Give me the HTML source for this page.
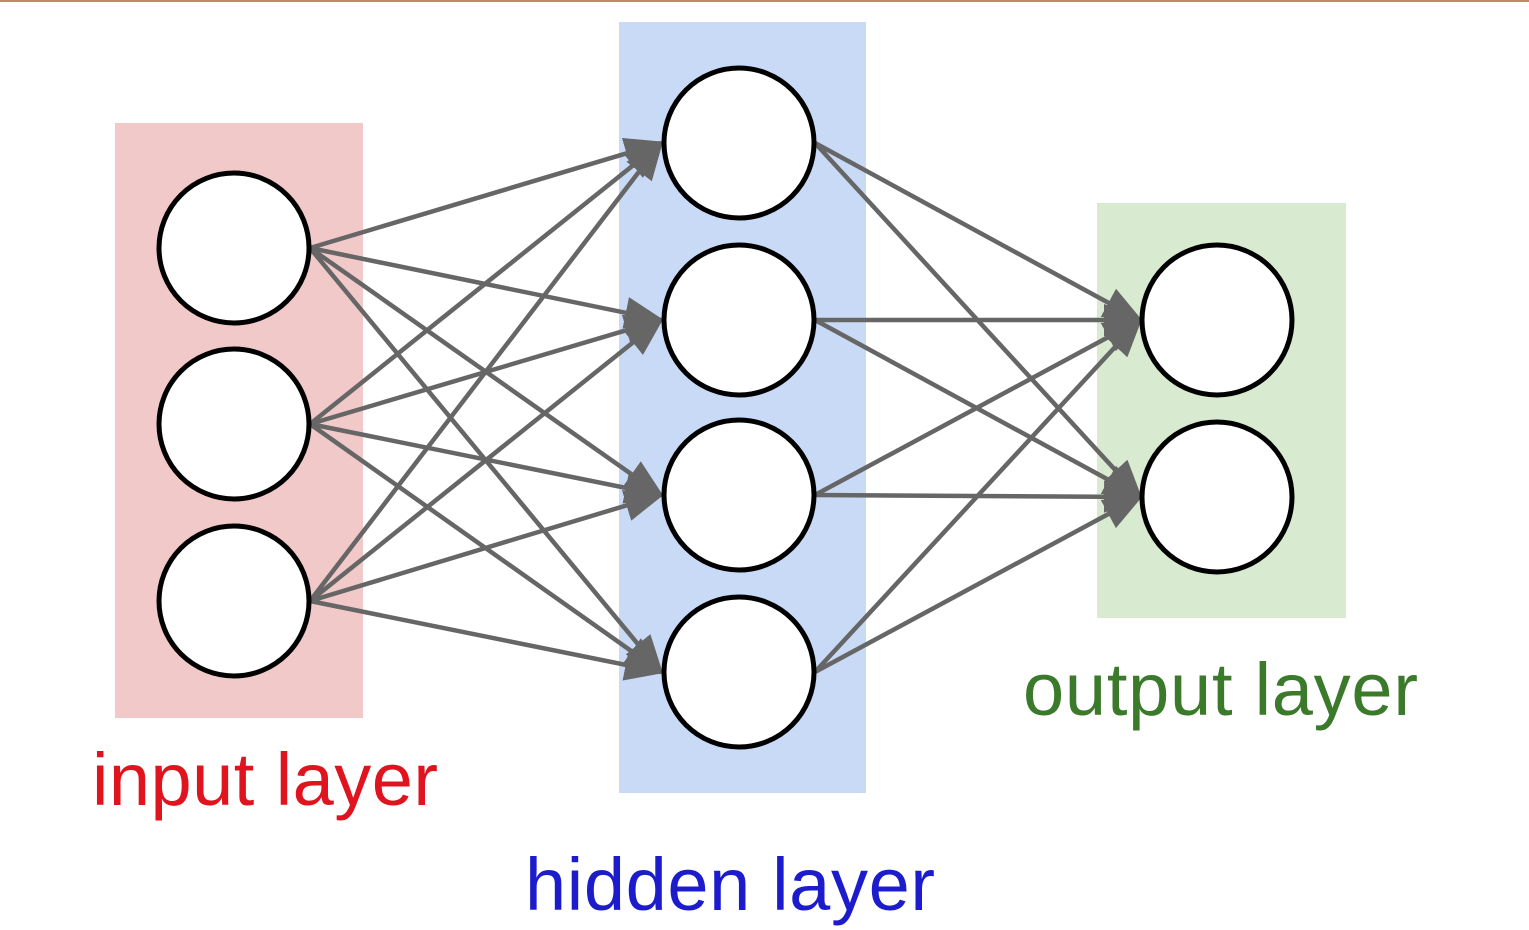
<!DOCTYPE html>
<html><head><style>
html,body{margin:0;padding:0;background:#fff;}
svg{display:block;}
</style></head><body>
<svg width="1529" height="930" viewBox="0 0 1529 930" xmlns="http://www.w3.org/2000/svg">
<defs>
<marker id="a" markerWidth="40" markerHeight="32" refX="36" refY="16" orient="auto" markerUnits="userSpaceOnUse">
<path d="M0,0 L40,16 L0,32 Z" fill="#666"/>
</marker>
</defs>
<rect x="0" y="0" width="1529" height="2" fill="#c08a6a"/>
<rect x="115" y="123" width="248" height="595" fill="#f2c9c9"/>
<rect x="619" y="22" width="247" height="771" fill="#c9daf6"/>
<rect x="1097" y="203" width="249" height="415" fill="#d8ead0"/>
<g stroke="#666" stroke-width="4.5" fill="none" marker-end="url(#a)">
<line x1="310" y1="248" x2="661" y2="143"/><line x1="310" y1="248" x2="661" y2="320"/><line x1="310" y1="248" x2="661" y2="495"/><line x1="310" y1="248" x2="661" y2="672"/>
<line x1="310" y1="424" x2="661" y2="143"/><line x1="310" y1="424" x2="661" y2="320"/><line x1="310" y1="424" x2="661" y2="495"/><line x1="310" y1="424" x2="661" y2="672"/>
<line x1="310" y1="601" x2="661" y2="143"/><line x1="310" y1="601" x2="661" y2="320"/><line x1="310" y1="601" x2="661" y2="495"/><line x1="310" y1="601" x2="661" y2="672"/>
<line x1="815" y1="143" x2="1140" y2="320"/><line x1="815" y1="143" x2="1140" y2="497"/>
<line x1="815" y1="320" x2="1140" y2="320"/><line x1="815" y1="320" x2="1140" y2="497"/>
<line x1="815" y1="495" x2="1140" y2="320"/><line x1="815" y1="495" x2="1140" y2="497"/>
<line x1="815" y1="672" x2="1140" y2="320"/><line x1="815" y1="672" x2="1140" y2="497"/>
</g>
<g fill="#fff" stroke="#000" stroke-width="5">
<circle cx="234" cy="248" r="75"/><circle cx="234" cy="424" r="75"/><circle cx="234" cy="601" r="75"/>
<circle cx="739" cy="143" r="75"/><circle cx="739" cy="320" r="75"/><circle cx="739" cy="495" r="75"/><circle cx="739" cy="672" r="75"/>
<circle cx="1217" cy="320" r="75"/><circle cx="1217" cy="497" r="75"/>
</g>
<g font-family="Liberation Sans, sans-serif" font-size="74">
<text x="92" y="805" fill="#e0141e" textLength="346">input layer</text>
<text x="525" y="910" fill="#1c1ccc" textLength="410">hidden layer</text>
<text x="1023" y="715" fill="#3a7a2a" textLength="395">output layer</text>
</g>
</svg>
</body></html>
